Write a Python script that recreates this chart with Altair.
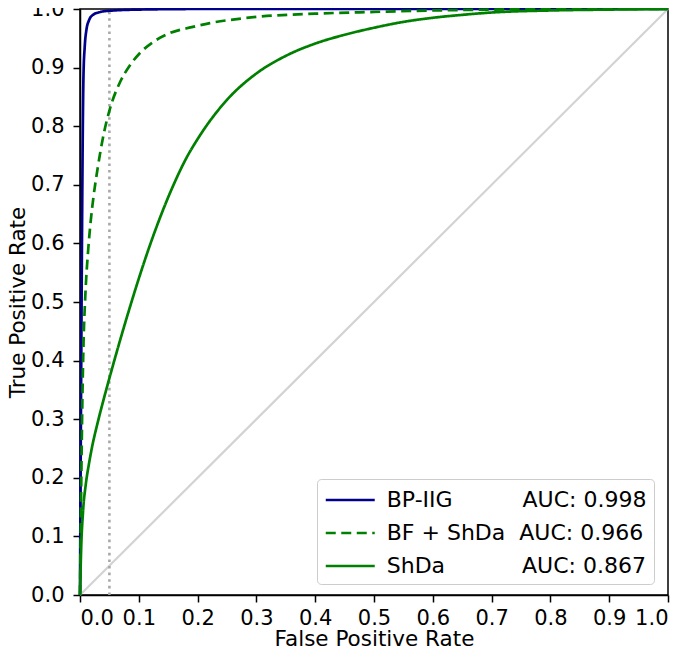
import altair as alt
import pandas as pd

# --- data ---
names = ["BP-IIG", "BF + ShDa", "ShDa"]
aucs = ["0.998", "0.966", "0.867"]
pads = ["\u00a0" * 10, "\u00a0" * 2, "\u00a0" * 11]

bp_fpr = [0, 0.001, 0.002, 0.003, 0.004, 0.005, 0.006, 0.008, 0.011, 0.015, 0.022, 0.035, 0.05, 0.1, 0.2, 1.0]
bp_tpr = [0, 0.2, 0.38, 0.55, 0.7, 0.82, 0.89, 0.935, 0.965, 0.98, 0.99, 0.995, 0.997, 0.999, 1.0, 1.0]

bf_fpr = [0, 0.002, 0.003, 0.004, 0.006, 0.009, 0.014, 0.018, 0.023, 0.03, 0.04, 0.051, 0.068,
          0.085, 0.102, 0.125, 0.153, 0.19, 0.221, 0.26, 0.306, 0.4, 0.5, 0.6, 0.7, 0.8, 1.0]
bf_tpr = [0, 0.18, 0.26, 0.33, 0.43, 0.51, 0.59, 0.636, 0.68, 0.728, 0.785, 0.83, 0.875,
          0.904, 0.925, 0.944, 0.959, 0.969, 0.976, 0.982, 0.987, 0.992, 0.995, 0.9975, 0.999, 1.0, 1.0]

sh_fpr = [0, 0.002, 0.005, 0.01, 0.015, 0.02, 0.03, 0.04, 0.05, 0.06, 0.07, 0.08, 0.09, 0.1,
          0.12, 0.14, 0.16, 0.18, 0.2, 0.25, 0.3, 0.35, 0.4, 0.45, 0.5, 0.55, 0.6, 0.65, 0.7, 0.8, 0.9, 1.0]
sh_tpr = [0, 0.08, 0.14, 0.19, 0.2225, 0.25, 0.294, 0.333, 0.37, 0.406, 0.441, 0.475, 0.508, 0.54,
          0.6, 0.654, 0.702, 0.744, 0.778, 0.845, 0.89, 0.92, 0.941, 0.956, 0.968, 0.978, 0.985, 0.99,
          0.994, 0.9975, 0.999, 1.0]

diag_x = [0.0, 1.0]
diag_y = [0.0, 1.0]
thresh_x = [0.05, 0.05]
thresh_y = [0.0, 1.0]

ticks = [round(i * 0.1, 1) for i in range(11)]
colors = ["#00008b", "#008000", "#008000"]
dashes = [[1, 0], [10, 5.5], [1, 0]]

labels = [n + p + "AUC: " + a for n, p, a in zip(names, pads, aucs)]

rows = []
for lab, fx, fy in zip(labels, [bp_fpr, bf_fpr, sh_fpr], [bp_tpr, bf_tpr, sh_tpr]):
    for i, (a, b) in enumerate(zip(fx, fy)):
        rows.append({"label": lab, "fpr": a, "tpr": b, "i": i})
curves = pd.DataFrame(rows)

xs = alt.Scale(domain=[0, 1], nice=False, zero=False)
ys = alt.Scale(domain=[0, 1], nice=False, zero=False)

xaxis = alt.Axis(values=ticks, format=".1f", title="False Positive Rate",
                 labelPadding=5, titlePadding=0)
yaxis = alt.Axis(values=ticks, format=".1f", title="True Positive Rate",
                 labelPadding=9, titlePadding=1)

diag = alt.Chart(pd.DataFrame({"x": diag_x, "y": diag_y})).mark_line(
    color="#d3d3d3", strokeWidth=2.2
).encode(x=alt.X("x:Q", scale=xs, axis=xaxis), y=alt.Y("y:Q", scale=ys, axis=yaxis))

thresh = alt.Chart(pd.DataFrame({"x": thresh_x, "y": thresh_y})).mark_line(
    color="#a9a9a9", strokeWidth=2.6, strokeDash=[2.6, 4]
).encode(x=alt.X("x:Q", scale=xs), y=alt.Y("y:Q", scale=ys))

lines = alt.Chart(curves).mark_line(strokeWidth=2.7, interpolate="monotone").encode(
    x=alt.X("fpr:Q", scale=xs),
    y=alt.Y("tpr:Q", scale=ys),
    color=alt.Color(
        "label:N",
        scale=alt.Scale(domain=labels, range=colors),
        sort=labels,
        title=None,
        legend=alt.Legend(
            orient="none", legendX=237, legendY=470,
            symbolType="M-2,0L2,0", symbolSize=600, symbolStrokeWidth=2.7,
            symbolOffset=12.25, labelOffset=22.5,
            labelFontSize=22, labelLimit=500,
            padding=7, rowPadding=8,
            strokeColor="#cccccc", cornerRadius=4, fillColor="white",
        ),
    ),
    strokeDash=alt.StrokeDash(
        "label:N", scale=alt.Scale(domain=labels, range=dashes), sort=labels, title=None
    ),
    order=alt.Order("i:Q"),
)

chart = (
    alt.layer(diag, thresh, lines)
    .properties(width=588, height=586, autosize=alt.AutoSizeParams(type="none"),
                padding={"left": 72, "top": 1, "right": 9, "bottom": 55})
    .configure(font="DejaVu Sans")
    .configure_view(stroke="black", strokeWidth=1.5)
    .configure_axis(
        grid=False, domainColor="black", domainWidth=1.5, tickColor="black", tickWidth=1.5,
        tickSize=7, labelFontSize=21, titleFontSize=21.5, titleFontWeight="normal",
        labelColor="black", titleColor="black", labelFont="DejaVu Sans", titleFont="DejaVu Sans",
    )
    .configure_legend(labelFont="DejaVu Sans", labelColor="black")
)

chart.save("out.html", embed_options={"renderer": "svg", "actions": False})
